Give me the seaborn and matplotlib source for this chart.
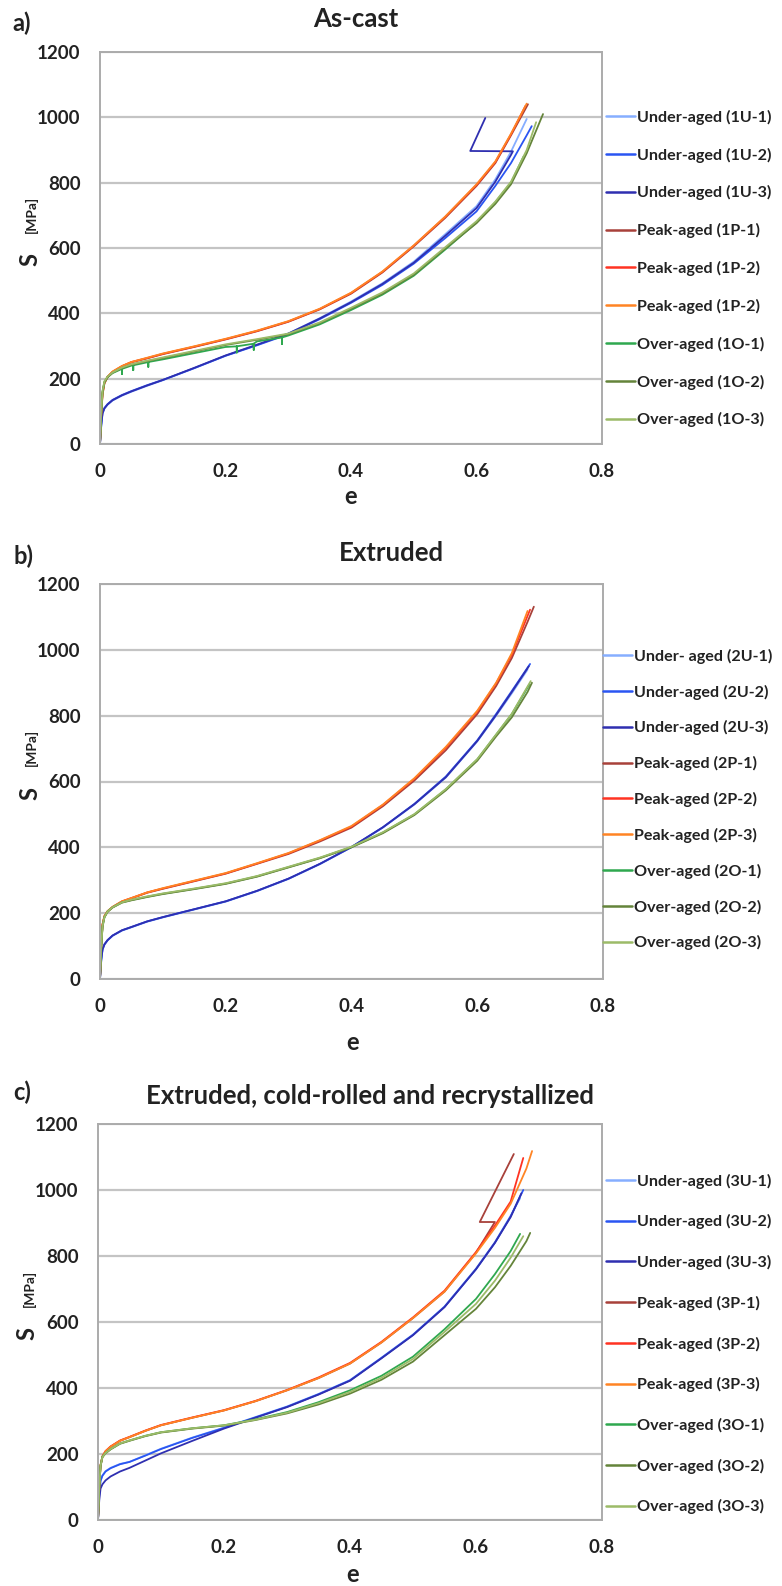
import matplotlib
matplotlib.use("Agg")
import matplotlib.pyplot as plt
from matplotlib.lines import Line2D
import pandas as pd
import seaborn as sns

sns.set_theme(style="white")
plt.rcParams["font.family"] = ["Lato", "DejaVu Sans"]
TEXT = "#222222"

# Common strain grid (e); every stress list below is read at these strains
STRAIN = [0, 0.002, 0.004, 0.007, 0.012, 0.02, 0.035, 0.05, 0.075, 0.1, 0.15,
          0.2, 0.25, 0.3, 0.35, 0.4, 0.45, 0.5, 0.55, 0.6, 0.63, 0.655, 0.68]

COLORS = ["#86AEFF", "#2A55F2", "#2F2FB0", "#A8413A", "#FF3322", "#FF8424",
          "#2FA84F", "#64843A", "#9CBB68"]

# ---------------- a) As-cast ----------------
A_TITLE = "As-cast"
A_LABELS = ["Under-aged (1U-1)", "Under-aged (1U-2)", "Under-aged (1U-3)",
            "Peak-aged (1P-1)", "Peak-aged (1P-2)", "Peak-aged (1P-2)",
            "Over-aged (1O-1)", "Over-aged (1O-2)", "Over-aged (1O-3)"]
A_1U1 = [0, 55, 92, 108, 120, 133, 148, 160, 178, 195, 232, 270, 303, 338, 385, 436, 492, 558, 642, 728, 810, 895]
A_1U2 = [0, 60, 95, 110, 122, 135, 150, 162, 180, 196, 232, 270, 302, 336, 382, 432, 487, 552, 630, 712, 790, 860, 945]
A_1U3 = [0, 58, 94, 109, 121, 134, 149, 161, 179, 196, 233, 271, 304, 338, 384, 434, 490, 555, 637, 722, 803, 885]
A_1P1 = [0, 90, 150, 185, 205, 220, 238, 250, 262, 275, 297, 320, 345, 374, 412, 460, 525, 605, 692, 790, 860, 945]
A_1P2 = [0, 95, 155, 188, 206, 221, 238, 251, 263, 276, 298, 321, 346, 375, 413, 462, 527, 607, 695, 793, 863, 948]
A_1P3 = [0, 92, 152, 186, 206, 222, 239, 251, 264, 277, 299, 322, 347, 376, 414, 463, 528, 608, 696, 795, 865, 950]
A_1O1 = [0, 100, 160, 190, 205, 217, 230, 240, 250, 259, 278, 297, 314, 332, 366, 410, 457, 515, 595, 678, 740, 800]
A_1O2 = [0, 98, 158, 188, 204, 218, 233, 243, 254, 263, 283, 303, 319, 336, 370, 414, 460, 518, 598, 676, 735, 795, 890]
A_1O3 = [0, 100, 162, 192, 206, 219, 234, 244, 255, 265, 285, 305, 321, 338, 372, 417, 464, 522, 602, 682, 742, 803, 900]
A_END_E = [0.680, 0.688, 0.658, 0.682, 0.678, 0.680, 0.675, 0.706, 0.695]
A_END_S = [995, 973, 896, 1040, 1035, 1042, 880, 1010, 985]
A_LEAD = [0.020, 0, 0, 0, 0, 0, 0, 0, 0.012]
# 1U-3 record jumps back after the last point
A_1U3_RETURN_E = [0.590, 0.614]
A_1U3_RETURN_S = [897, 998]
# short drop-outs in the 1O-1 record
A_1O1_DROP_E = [0.035, 0.053, 0.077, 0.218, 0.245, 0.290]
A_1O1_DROP_TOP = [230, 241, 251, 299, 307, 326]
A_1O1_DROP_LOW = [214, 226, 236, 280, 288, 306]

# ---------------- b) Extruded ----------------
B_TITLE = "Extruded"
B_LABELS = ["Under- aged (2U-1)", "Under-aged (2U-2)", "Under-aged (2U-3)",
            "Peak-aged (2P-1)", "Peak-aged (2P-2)", "Peak-aged (2P-3)",
            "Over-aged (2O-1)", "Over-aged (2O-2)", "Over-aged (2O-3)"]
B_2U1 = [0, 55, 88, 104, 117, 131, 147, 157, 174, 187, 211, 235, 267, 304, 349, 400, 460, 530, 612, 722, 800, 868]
B_2U2 = [0, 60, 90, 105, 118, 132, 148, 158, 175, 188, 212, 236, 268, 305, 350, 401, 461, 532, 615, 725, 805, 875]
B_2U3 = [0, 58, 90, 105, 118, 132, 148, 158, 175, 188, 212, 236, 268, 305, 350, 401, 461, 531, 613, 723, 802, 872]
B_2P1 = [0, 100, 165, 190, 205, 218, 235, 245, 262, 274, 297, 320, 350, 380, 418, 460, 525, 603, 695, 805, 890, 975, 1085]
B_2P2 = [0, 102, 166, 191, 206, 219, 236, 246, 263, 275, 298, 321, 351, 382, 421, 463, 529, 608, 702, 812, 898, 985]
B_2P3 = [0, 100, 165, 191, 206, 219, 236, 246, 263, 276, 299, 322, 352, 383, 422, 465, 530, 610, 705, 815, 900, 990]
B_2O1 = [0, 100, 160, 188, 205, 218, 233, 240, 250, 259, 274, 290, 312, 340, 368, 401, 445, 500, 576, 667, 742, 805]
B_2O2 = [0, 98, 158, 187, 204, 217, 232, 239, 249, 258, 273, 289, 311, 339, 367, 400, 443, 498, 573, 663, 737, 795, 872]
B_2O3 = [0, 100, 160, 188, 205, 218, 233, 241, 251, 260, 275, 291, 313, 341, 369, 402, 446, 501, 577, 668, 743, 806]
B_END_E = [0.680, 0.684, 0.682, 0.690, 0.684, 0.680, 0.683, 0.687, 0.685]
B_END_S = [940, 957, 950, 1131, 1122, 1118, 895, 900, 905]
B_LEAD = [0.025, 0, 0, 0, 0, 0, 0, 0, 0]

# ---------------- c) Extruded, cold-rolled and recrystallized ----------------
C_TITLE = "Extruded, cold-rolled and recrystallized"
C_LABELS = ["Under-aged (3U-1)", "Under-aged (3U-2)", "Under-aged (3U-3)",
            "Peak-aged (3P-1)", "Peak-aged (3P-2)", "Peak-aged (3P-3)",
            "Over-aged (3O-1)", "Over-aged (3O-2)", "Over-aged (3O-3)"]
C_3U1 = [0, 80, 120, 135, 148, 158, 170, 176, 196, 216, 250, 280, 312, 344, 382, 424, 492, 562, 647, 762, 842, 922]
C_3U2 = [0, 78, 118, 134, 147, 157, 169, 176, 195, 215, 249, 279, 311, 343, 381, 423, 491, 561, 646, 760, 840, 920]
C_3U3 = [0, 60, 95, 108, 120, 132, 147, 158, 180, 202, 240, 277, 310, 342, 380, 422, 490, 560, 645, 760, 840, 918]
C_3P1 = [0, 100, 165, 192, 208, 222, 240, 251, 270, 287, 310, 332, 360, 393, 430, 474, 538, 612, 692, 810, 903]
C_3P2 = [0, 102, 166, 193, 209, 223, 241, 252, 271, 288, 311, 333, 361, 394, 432, 476, 540, 614, 695, 812, 892, 965]
C_3P3 = [0, 100, 165, 192, 208, 222, 240, 251, 270, 287, 310, 332, 360, 393, 430, 474, 538, 612, 692, 808, 885, 958, 1065]
C_3O1 = [0, 100, 165, 192, 203, 215, 232, 241, 255, 266, 278, 287, 305, 327, 357, 393, 437, 495, 578, 670, 745, 815]
C_3O2 = [0, 98, 162, 190, 202, 214, 231, 240, 254, 265, 277, 286, 303, 323, 350, 383, 425, 480, 560, 640, 705, 770, 845]
C_3O3 = [0, 100, 164, 191, 203, 215, 232, 241, 255, 266, 278, 287, 304, 325, 354, 388, 431, 488, 570, 655, 725, 795]
C_END_E = [0.670, 0.675, 0.672, 0.606, 0.675, 0.689, 0.670, 0.686, 0.675]
C_END_S = [975, 1000, 990, 903, 1097, 1118, 867, 870, 860]
C_LEAD = [0.012, 0, 0, 0, 0, 0, 0, 0, 0.035]
# 3P-1 record jumps back and continues to fracture
C_3P1_RETURN_E = [0.660]
C_3P1_RETURN_S = [1109]


def build(stress, end_e, end_s, lead, extra_e=(), extra_s=(), drops=None):
    pts = list(zip(STRAIN[:len(stress)], stress))
    if drops is not None:
        for de, top, low in zip(*drops):
            pts += [(de, top), (de, low), (de, top)]
        pts = sorted(pts, key=lambda p: p[0])
    if lead:
        pts = [(lead, 0)] + pts
    pts.append((end_e, end_s))
    pts += list(zip(extra_e, extra_s))
    return pts


panels = [
    dict(tag="a)", title=A_TITLE, labels=A_LABELS,
         curves=[build(A_1U1, A_END_E[0], A_END_S[0], A_LEAD[0]),
                 build(A_1U2, A_END_E[1], A_END_S[1], A_LEAD[1]),
                 build(A_1U3, A_END_E[2], A_END_S[2], A_LEAD[2], A_1U3_RETURN_E, A_1U3_RETURN_S),
                 build(A_1P1, A_END_E[3], A_END_S[3], A_LEAD[3]),
                 build(A_1P2, A_END_E[4], A_END_S[4], A_LEAD[4]),
                 build(A_1P3, A_END_E[5], A_END_S[5], A_LEAD[5]),
                 build(A_1O1, A_END_E[6], A_END_S[6], A_LEAD[6],
                       drops=(A_1O1_DROP_E, A_1O1_DROP_TOP, A_1O1_DROP_LOW)),
                 build(A_1O2, A_END_E[7], A_END_S[7], A_LEAD[7]),
                 build(A_1O3, A_END_E[8], A_END_S[8], A_LEAD[8])],
         ax_px=(100, 52, 602, 444), leg_px=(606, 113, 424), tag_px=(12, 23),
         title_px=(356, 19), xlabel_px=(351, 497)),
    dict(tag="b)", title=B_TITLE, labels=B_LABELS,
         curves=[build(s, e, v, l) for s, e, v, l in zip(
             [B_2U1, B_2U2, B_2U3, B_2P1, B_2P2, B_2P3, B_2O1, B_2O2, B_2O3],
             B_END_E, B_END_S, B_LEAD)],
         ax_px=(100, 584, 603, 979), leg_px=(603, 652, 947), tag_px=(13, 556),
         title_px=(391, 553), xlabel_px=(353, 1042)),
    dict(tag="c)", title=C_TITLE, labels=C_LABELS,
         curves=[build(C_3U1, C_END_E[0], C_END_S[0], C_LEAD[0]),
                 build(C_3U2, C_END_E[1], C_END_S[1], C_LEAD[1]),
                 build(C_3U3, C_END_E[2], C_END_S[2], C_LEAD[2]),
                 build(C_3P1, C_END_E[3], C_END_S[3], C_LEAD[3], C_3P1_RETURN_E, C_3P1_RETURN_S),
                 build(C_3P2, C_END_E[4], C_END_S[4], C_LEAD[4]),
                 build(C_3P3, C_END_E[5], C_END_S[5], C_LEAD[5]),
                 build(C_3O1, C_END_E[6], C_END_S[6], C_LEAD[6]),
                 build(C_3O2, C_END_E[7], C_END_S[7], C_LEAD[7]),
                 build(C_3O3, C_END_E[8], C_END_S[8], C_LEAD[8])],
         ax_px=(98, 1124, 602, 1520), leg_px=(606, 1177, 1511), tag_px=(13, 1092),
         title_px=(370, 1096), xlabel_px=(353, 1575)),
]

W, H = 782, 1586
fig = plt.figure(figsize=(W / 100, H / 100), dpi=100)
fig.patch.set_facecolor("white")

for p in panels:
    x0, y0, x1, y1 = p["ax_px"]
    ax = fig.add_axes([x0 / W, 1 - y1 / H, (x1 - x0) / W, (y1 - y0) / H])
    keys = [f"s{i}" for i in range(len(p["curves"]))]
    rows = []
    for k, pts in zip(keys, p["curves"]):
        for i, (e, s) in enumerate(pts):
            rows.append((k, i, e, s))
    df = pd.DataFrame(rows, columns=["series", "idx", "e", "S"])
    sns.lineplot(data=df, x="e", y="S", hue="series", hue_order=keys,
                 palette=dict(zip(keys, COLORS)), sort=False, estimator=None,
                 linewidth=1.3, legend=False, ax=ax)

    ax.set_xlim(0, 0.8)
    ax.set_ylim(0, 1200)
    ax.set_xticks([0, 0.2, 0.4, 0.6, 0.8])
    ax.set_xticklabels(["0", "0.2", "0.4", "0.6", "0.8"])
    ax.set_yticks(range(0, 1201, 200))
    ax.set_xlabel("")
    ax.set_ylabel("")
    ax.grid(axis="y", color="#C4C4C4", linewidth=1.6)
    ax.grid(axis="x", visible=False)
    ax.set_axisbelow(True)
    for sp in ax.spines.values():
        sp.set_visible(True)
        sp.set_color("#ABABAB")
        sp.set_linewidth(1.4)
    ax.tick_params(axis="x", length=0, pad=14, labelsize=13.5, colors=TEXT)
    ax.tick_params(axis="y", length=0, pad=14, labelsize=13.5, colors=TEXT)
    for lbl in ax.get_xticklabels() + ax.get_yticklabels():
        lbl.set_fontweight("bold")

    # y-axis label: large "S" with smaller unit above it
    ax.text(-0.14, 0.47, "S", rotation=90, transform=ax.transAxes, ha="center",
            va="center", fontsize=17, fontweight="bold", color=TEXT)
    ax.text(-0.137, 0.585, "[MPa]", rotation=90, transform=ax.transAxes,
            ha="center", va="center", fontsize=10, fontweight="bold", color=TEXT)

    fig.text(p["xlabel_px"][0] / W, 1 - p["xlabel_px"][1] / H, "e", ha="center",
             va="center", fontsize=17, fontweight="bold", color=TEXT)
    fig.text(p["tag_px"][0] / W, 1 - p["tag_px"][1] / H, p["tag"], ha="left",
             va="center", fontsize=17, fontweight="bold", color=TEXT)
    fig.text(p["title_px"][0] / W, 1 - p["title_px"][1] / H, p["title"],
             ha="center", va="center", fontsize=18.5, fontweight="bold", color=TEXT)

    lx, ly0, ly1 = p["leg_px"]
    n = len(p["labels"])
    spacing = (ly1 - ly0) / (n - 1)
    fs = 11.6
    handles = [Line2D([], [], color=c, linewidth=1.8) for c in COLORS]
    leg = ax.legend(handles, p["labels"], loc="center left",
                    bbox_to_anchor=(lx / W, 1 - (ly0 + ly1) / 2 / H),
                    bbox_transform=fig.transFigure, frameon=False,
                    borderpad=0, borderaxespad=0, handlelength=1.8,
                    handletextpad=0.15,
                    labelspacing=spacing / (fs * 100 / 72) - 1.0,
                    prop={"size": fs, "weight": "bold"})
    for t in leg.get_texts():
        t.set_color(TEXT)

fig.savefig("out.png", dpi=100, facecolor="white")
